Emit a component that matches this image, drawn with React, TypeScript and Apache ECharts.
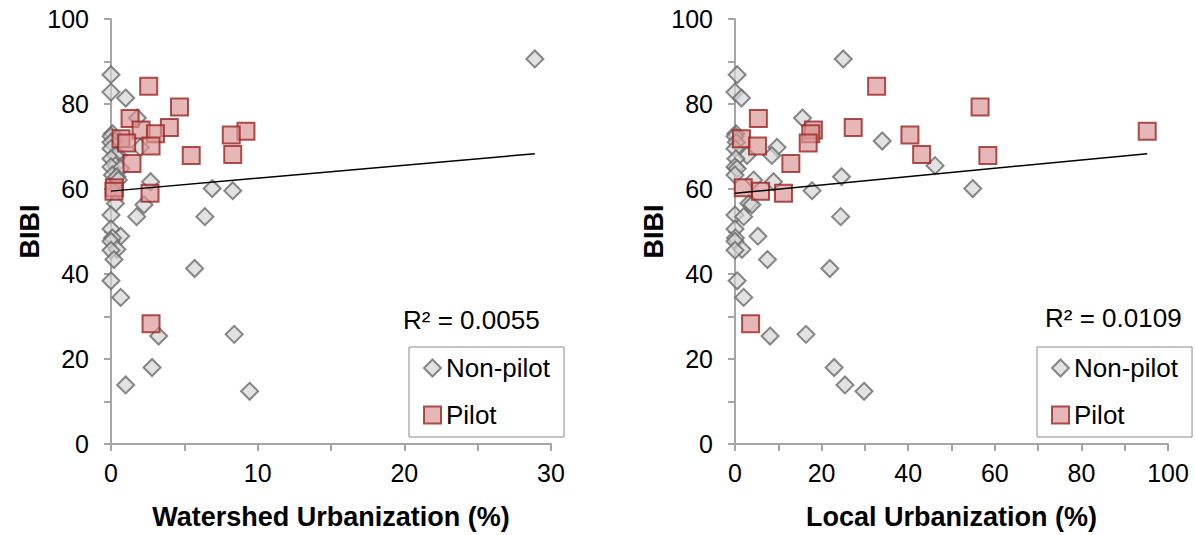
import React, { useEffect, useRef } from "react";
import * as echarts from "echarts";

const nonPilotBibi = [90.6, 86.9, 82.8, 81.4, 76.7, 73.0, 72.4, 71.3, 71.0, 69.8, 69.5, 67.9, 67.9, 67.1, 65.5, 65.2, 64.8, 63.3, 62.9, 62.1, 61.7, 60.1, 59.6, 56.6, 56.3, 53.9, 53.5, 53.5, 50.6, 48.9, 48.5, 47.7, 45.8, 45.6, 43.4, 41.3, 38.4, 34.5, 25.8, 25.4, 18.0, 13.9, 12.4];
const nonPilotWatershed = [28.9, 0, 0, 1.0, 1.8, 0.1, 0, 0.2, 0, 2.0, 0, 0.5, 0.3, 0, 0.3, 0, 0.66, 0.1, 0.4, 0.5, 2.7, 6.9, 8.3, 0.3, 2.25, 0, 1.75, 6.4, 0, 0.66, 0.1, 0, 0.4, 0, 0.2, 5.7, 0, 0.66, 8.4, 3.25, 2.8, 1.0, 9.45];
const nonPilotLocal = [25.0, 0.5, 0, 1.5, 15.6, 0.2, 0, 34.0, 0.3, 9.7, 0, 8.5, 2.8, 0.2, 46.2, 0, 0.5, 0, 24.6, 4.3, 8.9, 54.9, 17.8, 3.2, 3.9, 0, 2.0, 24.4, 0, 5.3, 0.1, 0, 1.6, 0, 7.5, 21.9, 0.5, 2.0, 16.4, 8.1, 22.9, 25.4, 29.8];

const pilotBibi = [84.2, 79.3, 76.6, 74.5, 73.9, 73.6, 73.0, 72.7, 71.8, 70.8, 70.1, 68.1, 67.9, 66.0, 60.3, 59.5, 59.0, 28.3];
const pilotWatershed = [2.57, 4.67, 1.3, 3.98, 2.05, 9.2, 3.03, 8.2, 0.68, 1.07, 2.73, 8.3, 5.47, 1.43, 0.23, 0.2, 2.66, 2.73];
const pilotLocal = [32.7, 56.6, 5.4, 27.3, 18.1, 95.2, 17.5, 40.4, 1.5, 16.9, 5.2, 43.1, 58.4, 12.9, 1.9, 5.9, 11.2, 3.6];

const trendWatershedX = [0, 28.9];
const trendWatershedY = [59.5, 68.3];
const trendLocalX = [0, 95.2];
const trendLocalY = [59.0, 68.3];

const r2Labels = ["R² = 0.0055", "R² = 0.0109"];
const xAxisNames = ["Watershed Urbanization (%)", "Local Urbanization (%)"];
const yAxisName = "BIBI";
const legendNames = ["Non-pilot", "Pilot"];

const FONT = '"Liberation Sans", Arial, sans-serif';
const AXIS_COLOR = "#a6a6a6";

const zip = (xs: number[], ys: number[]) => xs.map((x, i) => [x, ys[i]]);

export default function App() {
  const ref = useRef<HTMLDivElement>(null);
  useEffect(() => {
    if (!ref.current) return;
    const chart = echarts.init(ref.current, null, { renderer: "svg" });

    const mkX = (gi: number, max: number, interval: number) => ({
      type: "value",
      gridIndex: gi,
      min: 0,
      max,
      interval,
      name: xAxisNames[gi],
      nameLocation: "middle",
      nameGap: 59,
      nameTextStyle: { fontFamily: FONT, fontSize: 27, fontWeight: "bold", color: "#000" },
      axisLine: { show: true, lineStyle: { color: AXIS_COLOR, width: 2 } },
      axisTick: { show: true, length: 7, lineStyle: { color: AXIS_COLOR, width: 2 } },
      minorTick: { show: true, splitNumber: 2, length: 7, lineStyle: { color: AXIS_COLOR, width: 2 } },
      splitLine: { show: false },
      axisLabel: { fontFamily: FONT, fontSize: 25, color: "#000", margin: 16 },
    });
    const mkY = (gi: number) => ({
      type: "value",
      gridIndex: gi,
      min: 0,
      max: 100,
      interval: 20,
      name: yAxisName,
      nameLocation: "middle",
      nameGap: 66,
      nameTextStyle: { fontFamily: FONT, fontSize: 27, fontWeight: "bold", color: "#000" },
      axisLine: { show: true, lineStyle: { color: AXIS_COLOR, width: 2 } },
      axisTick: { show: true, length: 7, lineStyle: { color: AXIS_COLOR, width: 2 } },
      minorTick: { show: true, splitNumber: 2, length: 7, lineStyle: { color: AXIS_COLOR, width: 2 } },
      splitLine: { show: false },
      axisLabel: { fontFamily: FONT, fontSize: 25, color: "#000", margin: 22 },
    });

    const nonPilotStyle = { color: "rgba(212,212,212,0.85)", borderColor: "#6a6a6a", borderWidth: 2 };
    const pilotStyle = { color: "rgba(217,149,148,0.85)", borderColor: "#9b2423", borderWidth: 2 };

    const mkSeries = (gi: number, npx: number[], px: number[], tx: number[], ty: number[]) => [
      {
        type: "scatter",
        name: legendNames[0],
        xAxisIndex: gi,
        yAxisIndex: gi,
        symbol: "diamond",
        symbolSize: 17,
        itemStyle: nonPilotStyle,
        data: zip(npx, nonPilotBibi),
        z: 2,
      },
      {
        type: "scatter",
        name: legendNames[1],
        xAxisIndex: gi,
        yAxisIndex: gi,
        symbol: "rect",
        symbolSize: 17,
        itemStyle: pilotStyle,
        data: zip(px, pilotBibi),
        z: 3,
      },
      {
        type: "line",
        name: "trend" + gi,
        xAxisIndex: gi,
        yAxisIndex: gi,
        showSymbol: false,
        symbol: "none",
        lineStyle: { color: "#000", width: 1.5 },
        data: zip(tx, ty),
        z: 4,
      },
    ];

    const mkLegend = (left: number) => ({
      left,
      top: 347,
      orient: "vertical",
      selectedMode: false,
      borderColor: "#8c8c8c",
      borderWidth: 1,
      padding: [8, 14, 9, 14],
      itemGap: 21,
      itemWidth: 17,
      itemHeight: 17,
      textStyle: { fontFamily: FONT, fontSize: 26, color: "#000" },
      data: [
        { name: legendNames[0], icon: "diamond" },
        { name: legendNames[1], icon: "rect" },
      ],
    });

    chart.setOption({
      animation: false,
      backgroundColor: "#fff",
      grid: [
        { left: 111, top: 19, width: 440, height: 429 },
        { left: 735, top: 19, width: 433, height: 429 },
      ],
      xAxis: [mkX(0, 30, 10), mkX(1, 100, 20)],
      yAxis: [mkY(0), mkY(1)],
      legend: [mkLegend(409), mkLegend(1037)],
      series: [
        ...mkSeries(0, nonPilotWatershed, pilotWatershed, trendWatershedX, trendWatershedY),
        ...mkSeries(1, nonPilotLocal, pilotLocal, trendLocalX, trendLocalY),
      ],
      graphic: [
        {
          type: "text",
          left: 403,
          top: 307,
          style: { text: r2Labels[0], font: `26px ${FONT}`, fill: "#000" },
        },
        {
          type: "text",
          left: 1045,
          top: 305,
          style: { text: r2Labels[1], font: `26px ${FONT}`, fill: "#000" },
        },
      ],
    });
    return () => chart.dispose();
  }, []);
  return (
    <div
      ref={ref}
      style={{ position: "absolute", left: 0, top: 0, width: 1195, height: 535, background: "#fff" }}
    />
  );
}
